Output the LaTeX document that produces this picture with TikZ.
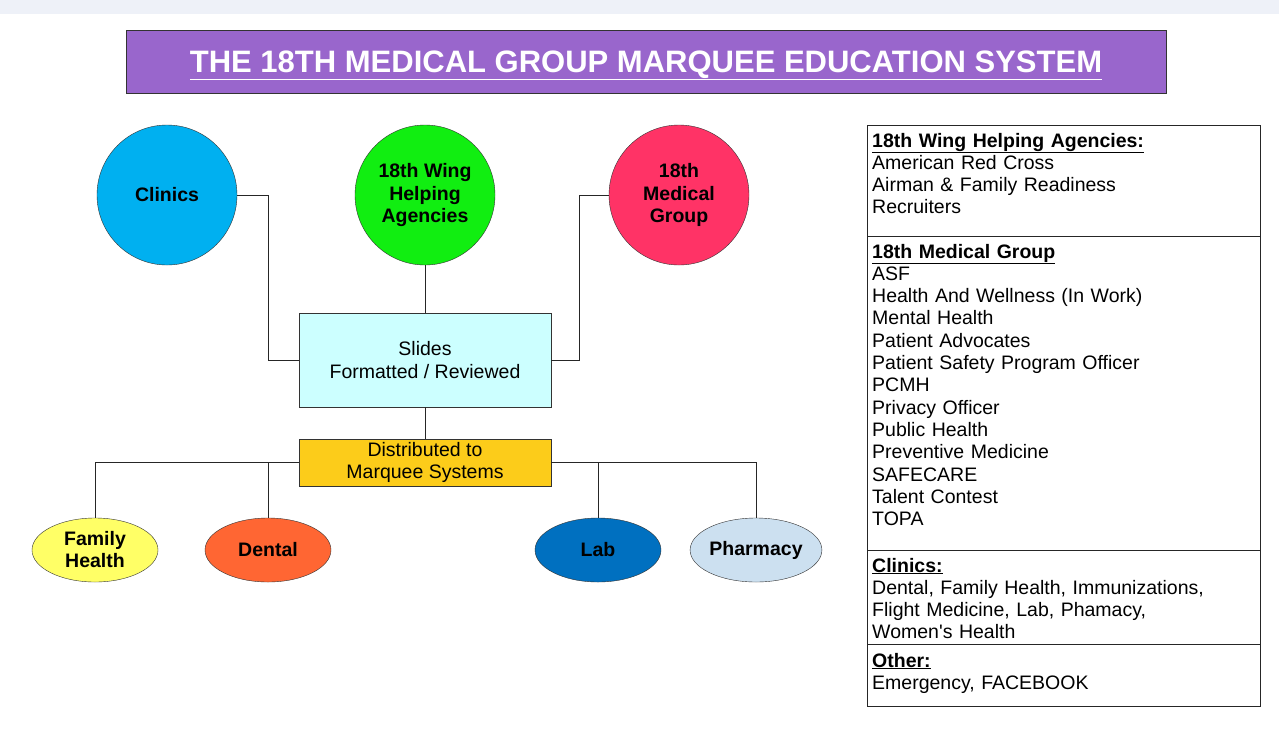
\documentclass[tikz,border=0pt]{standalone}
\usepackage{fontspec}
\setmainfont{Liberation Sans}
\usepackage{tikz}
\usetikzlibrary{positioning,shapes.geometric,calc}
\definecolor{topband}{RGB}{238, 241, 248}
\definecolor{titlepurple}{RGB}{153, 102, 204}
\definecolor{clinicblue}{RGB}{0, 176, 240}
\definecolor{winggreen}{RGB}{17, 238, 17}
\definecolor{medpink}{RGB}{255, 51, 102}
\definecolor{slidescyan}{RGB}{204, 255, 255}
\definecolor{distyellow}{RGB}{252, 204, 26}
\definecolor{famyellow}{RGB}{255, 255, 102}
\definecolor{dentalorange}{RGB}{255, 102, 51}
\definecolor{labblue}{RGB}{0, 112, 192}
\definecolor{pharmblue}{RGB}{204, 224, 240}

\begin{document}
\begin{tikzpicture}[x=1pt, y=-1pt,
  bubble/.style={circle, draw=black!80, minimum size=140pt, inner sep=0pt, align=center, font=\fontsize{19.5}{22.5}\selectfont\bfseries},
  oval/.style={ellipse, draw=black!80, minimum width=126pt, minimum height=64pt, inner sep=0pt, align=center, font=\fontsize{19.5}{22}\selectfont\bfseries},
  stepbox/.style={rectangle, draw=black!80, minimum width=252pt, inner sep=2pt, align=center},
  link/.style={black!85, line width=0.8pt},
  listtext/.style={anchor=base west, inner sep=0pt, text width=380pt, align=left, font=\fontsize{19.5}{22.3}\selectfont}]
\useasboundingbox (0,0) rectangle (1279,729);
\fill[white] (0,0) rectangle (1279,729);
\fill[topband] (0,0) rectangle (1279,14);

\node[draw=black!80, fill=titlepurple, minimum width=1040pt, minimum height=63pt, inner sep=0pt, text height=22pt, text depth=1pt, text=white, font=\fontsize{31}{36}\selectfont\bfseries] (title) at (646,61.5) {\underline{THE 18TH MEDICAL GROUP MARQUEE EDUCATION SYSTEM}};

\node[bubble, fill=clinicblue] (clinics) at (167,195) {Clinics};
\node[bubble, fill=winggreen] (wing) at (425,195) {18th Wing\\Helping\\Agencies};
\node[bubble, fill=medpink] (medical) at (679,195) {18th\\Medical\\Group};

\node[stepbox, fill=slidescyan, minimum height=94pt, font=\fontsize{19.5}{22.5}\selectfont] (slides) at (425,360) {Slides\\Formatted / Reviewed};
\node[stepbox, fill=distyellow, minimum height=47pt, font=\fontsize{19.5}{21.5}\selectfont] (distrib) at (425,462.5) {Distributed to\\Marquee Systems};

\node[oval, fill=famyellow] (famhealth) at (95,550) {Family\\Health};
\node[oval, fill=dentalorange] (dental) at (268,550) {Dental};
\node[oval, fill=labblue] (lab) at (598,550) {Lab};
\node[oval, fill=pharmblue] (pharmacy) at (756,550) {Pharmacy};

\draw[link] (clinics.east) -- ++(31,0) |- (slides.west);
\draw[link] (wing.south) -- (slides.north);
\draw[link] (medical.west) -- ++(-29,0) |- (slides.east);
\draw[link] (slides.south) -- (distrib.north);
\draw[link] (distrib.west) -| (famhealth.north);
\draw[link] (dental.north) |- (distrib.west);
\draw[link] (lab.north) |- (distrib.east);
\draw[link] (distrib.east) -| (pharmacy.north);

\draw[link] (867,125) rectangle (1260,706);
\foreach \y in {236,550,644}
    \draw[link] (867,\y) -- (1260,\y);
\node[listtext] (wingList) at (872,147) {\underline{\textbf{18th Wing Helping Agencies:}}\\American Red Cross\\Airman \& Family Readiness\\Recruiters};
\node[listtext] (medList) at (872,258) {\underline{\textbf{18th Medical Group}}\\ASF\\Health And Wellness (In Work)\\Mental Health\\Patient Advocates\\Patient Safety Program Officer\\PCMH\\Privacy Officer\\Public Health\\Preventive Medicine\\SAFECARE\\Talent Contest\\TOPA};
\node[listtext] (clinicList) at (872,572) {\underline{\textbf{Clinics:}}\\Dental, Family Health, Immunizations,\\Flight Medicine, Lab, Phamacy,\\Women\textquotesingle s Health};
\node[listtext] (otherList) at (872,667) {\underline{\textbf{Other:}}\\Emergency, FACEBOOK};
\end{tikzpicture}
\end{document}
